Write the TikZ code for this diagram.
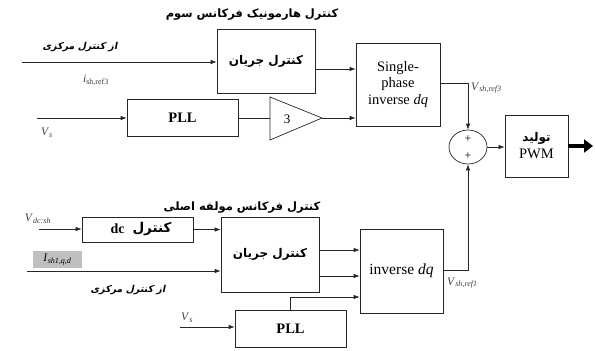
\documentclass[tikz,border=0pt]{standalone}
\usepackage{fontspec}
\setmainfont{Liberation Serif}
\newfontfamily\fa[Script=Arabic]{DejaVu Sans}
\newfontfamily\fai[Script=Arabic,FakeSlant=0.2]{DejaVu Sans Bold}
\TeXXeTstate=1
\usetikzlibrary{arrows.meta,shapes.geometric}
\newcommand\fatxt[1]{{\fa\bfseries\beginR #1\endR}}
\newcommand\faitx[1]{{\fai\beginR #1\endR}}
\newcommand\sym[2]{\textit{#1}\textsubscript{\textit{#2}}}
\begin{document}
\begin{tikzpicture}[x=1pt,y=-1pt,
  blk/.style={draw=black!85, line width=0.7pt, inner sep=0pt, align=center},
  arr/.style={-{Latex[length=6pt,width=4.5pt]}, line width=0.7pt, draw=black!85},
  ln/.style={line width=0.7pt, draw=black!85},
  lbl/.style={inner sep=0pt, text=black!75, font=\fontsize{11.5}{13}\selectfont},
  ttl/.style={inner sep=0pt, font=\fontsize{11.5}{13}\selectfont}
]
\useasboundingbox (0,0) rectangle (595,351);
% ---------- top branch ----------
\node[ttl] (t3) at (252,15) {\fatxt{کنترل هارمونیک فرکانس سوم}};
\node[blk, minimum width=98pt, minimum height=64pt, font=\fontsize{12}{14}\selectfont] (cc3) at (266,61) {\fatxt{کنترل جریان}};
\node[blk, minimum width=111pt, minimum height=37pt, font=\fontsize{14.5}{16}\selectfont\bfseries] (pll3) at (182.5,117.5) {PLL};
\coordinate (gin) at (270,118);
\coordinate (gout) at (322,118);
\draw[ln] (270,97) -- (322,118) -- (270,140) -- cycle;
\node[inner sep=0pt, font=\fontsize{13}{15}\selectfont] (g3) at (287,119) {3};
\node[blk, minimum width=84pt, minimum height=83pt, font=\fontsize{14.5}{16.5}\selectfont] (sp) at (398,84.5) {Single-\\phase\\inverse \textit{dq}};
\coordinate (in3) at (22,62);
\node[inner sep=0pt, font=\fontsize{9.5}{11}\selectfont] (src3) at (80,47) {\faitx{از کنترل مرکزی}};
\node[lbl] (i3) at (96,80) {\sym{i}{\textup{sh,ref3}}};
\coordinate (vs3) at (37,118);
\node[lbl] (vs3l) at (47,133) {\sym{V}{s}};
\draw[arr] (in3) -- (cc3.west |- in3);
\draw[arr] (vs3) -- (pll3.west |- vs3);
\draw[ln] (pll3.east |- gin) -- (gin);
\draw[arr] (cc3.east |- 0,69) -- (sp.west |- 0,69);
\draw[arr] (gout) -- (sp.west |- gout);
% ---------- sum and PWM ----------
\node[draw=black!85, line width=0.7pt, ellipse, minimum width=38pt, minimum height=34pt, inner sep=0pt] (sum) at (468,147) {};
\node[inner sep=0pt, font=\fontsize{12}{13}\selectfont] (p1) at (468,139) {+};
\node[inner sep=0pt, font=\fontsize{12}{13}\selectfont] (p2) at (468,156) {+};
\node[blk, minimum width=63pt, minimum height=62pt, font=\fontsize{14.5}{17}\selectfont] (pwm) at (536.5,146) {{\fontsize{12}{14}\selectfont\fatxt{تولید}}\\PWM};
\coordinate (k3) at (468,83);
\draw[arr] (sp.east |- k3) -- (k3) -- (sum.north);
\node[lbl, anchor=west] (v3) at (471,88) {\sym{V}{sh,ref3}};
\draw[arr] (sum.east) -- (pwm.west |- sum.east);
\coordinate (out) at (593,146);
\draw[-{Triangle[length=9pt,width=13pt]}, line width=3.5pt] (pwm.east) -- (out);
% ---------- bottom branch ----------
\node[ttl] (t1) at (242,208) {\fatxt{کنترل فرکانس مولفه اصلی}};
\node[blk, minimum width=111pt, minimum height=25pt] (dcb) at (137.5,229.5) {};
\node[inner sep=0pt, font=\bfseries\fontsize{14}{15}\selectfont] (dct) at (117.5,229) {dc};
\node[inner sep=0pt, font=\fontsize{13.5}{15}\selectfont] (dck) at (152,229.5) {\fatxt{کنترل}};
\node[blk, minimum width=98pt, minimum height=75pt, font=\fontsize{12}{14}\selectfont] (cc1) at (270,254.5) {\fatxt{کنترل جریان}};
\node[blk, minimum width=83pt, minimum height=84pt, font=\fontsize{15.5}{17}\selectfont] (inv) at (401.5,271) {inverse \textit{dq}};
\node[blk, minimum width=111pt, minimum height=37pt, font=\fontsize{14.5}{16}\selectfont\bfseries] (pll1) at (290.5,328.5) {PLL};
\coordinate (vdc) at (39,229);
\node[lbl] (vdcl) at (38,219) {\sym{V}{dc:sh}};
\draw[arr] (vdc) -- (dcb.west |- vdc);
\draw[arr] (dcb.east) -- (cc1.west |- dcb.east);
\node[fill=black!25, minimum width=49pt, minimum height=17pt, inner sep=0pt, font=\fontsize{11.5}{13}\selectfont] (ish) at (57.5,259.5) {\sym{I}{sh1,q,d}};
\coordinate (in1) at (27,271);
\draw[arr] (in1) -- (cc1.west |- in1);
\node[inner sep=0pt, font=\fontsize{9.5}{11}\selectfont] (src1) at (128,290) {\faitx{از کنترل مرکزی}};
\coordinate (vs1) at (180,327);
\node[lbl] (vs1l) at (187,318) {\sym{V}{s}};
\draw[arr] (vs1) -- (pll1.west |- vs1);
\draw[arr] (cc1.east |- 0,250) -- (inv.west |- 0,250);
\draw[arr] (cc1.east |- 0,276) -- (inv.west |- 0,276);
\coordinate (k0) at (290,297);
\draw[arr] (pll1.north -| k0) -- (k0) -- (inv.west |- k0);
\coordinate (k1) at (468,270);
\draw[arr] (inv.east |- k1) -- (k1) -- (sum.south);
\node[lbl, anchor=west] (v1) at (447,283) {\sym{V}{sh,ref1}};
\end{tikzpicture}
\end{document}
